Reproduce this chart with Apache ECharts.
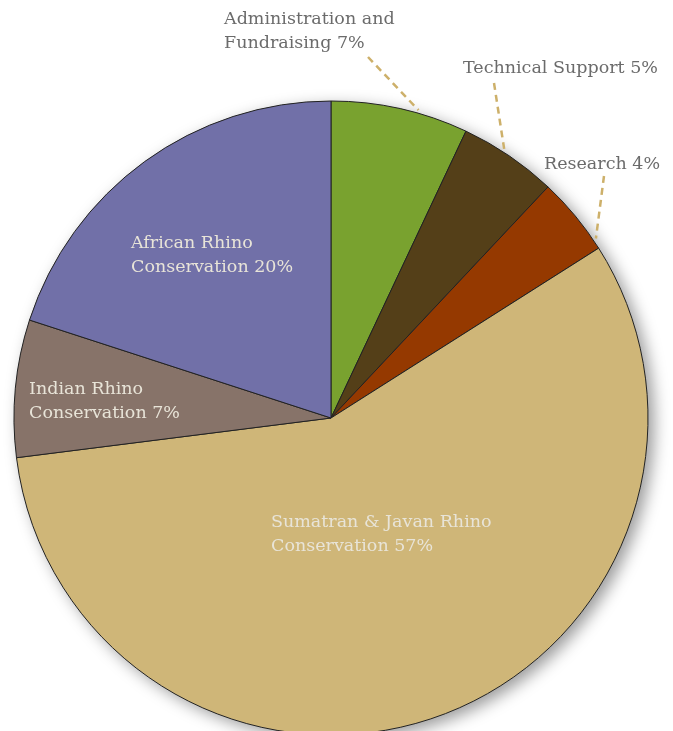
<!DOCTYPE html>
<html>
<head>
<meta charset="utf-8">
<script src="https://cdn.jsdelivr.net/npm/echarts@6/dist/echarts.min.js"></script>
<style>html,body{margin:0;padding:0;background:#fff}#c{width:673px;height:731px}</style>
</head>
<body>
<div id="c"></div>
<script>
const categories = ['Administration and\nFundraising', 'Technical Support', 'Research', 'Sumatran & Javan Rhino\nConservation', 'Indian Rhino\nConservation', 'African Rhino\nConservation'];
const values = [7, 5, 4, 57, 7, 20];
const colors = ['#79a22f', '#543f18', '#953900', '#cfb678', '#877369', '#7170a8'];
const outside = [true, true, true, false, false, false];
// label anchor positions (top-left of text block)
const labelPos = [[224, 7], [463, 56], [544, 152], [271, 510], [29, 377], [131, 231]];
// leader line: start offset from label top-left, and where along the slice (0..1) it meets the rim
const leaderStart = [[144, 50], [31, 27], [60, 24]];
const leaderFrac = [0.63, 0.42, 0.88];

const CX = 331, CY = 418, R = 317;
const total = values.reduce((a, b) => a + b, 0);

const chart = echarts.init(document.getElementById('c'), null, {renderer: 'canvas'});
const data = categories.map((name, i) => ({
  name: name,
  value: values[i],
  itemStyle: {color: colors[i]},
  label: {
    color: outside[i] ? '#6b6b6b' : '#e8e4d8'
  },
  labelLine: {show: outside[i]}
}));

function rimPoint(i) {
  let before = 0;
  for (let k = 0; k < i; k++) before += values[k];
  const frac = (before + values[i] * leaderFrac[i]) / total;
  const a = frac * Math.PI * 2;
  const r = R + 3;
  return [CX + r * Math.sin(a), CY - r * Math.cos(a)];
}

chart.setOption({
  animation: false,
  series: [{
    type: 'pie',
    silent: true,
    center: [CX, CY],
    radius: R,
    z: 1,
    label: {show: false},
    labelLine: {show: false},
    itemStyle: {
      color: '#ccc',
      shadowBlur: 16,
      shadowColor: 'rgba(0,0,0,0.4)',
      shadowOffsetX: 6,
      shadowOffsetY: 5
    },
    data: [{value: 1, name: 'shadow'}],
    emphasis: {disabled: true},
    tooltip: {show: false}
  }, {
    type: 'pie',
    z: 2,
    center: [CX, CY],
    radius: R,
    startAngle: 90,
    clockwise: true,
    avoidLabelOverlap: false,
    data: data,
    itemStyle: {
      borderColor: '#222',
      borderWidth: 1
    },
    label: {
      show: true,
      formatter: p => p.name + ' ' + p.value + '%',
      fontFamily: 'DejaVu Serif',
      fontSize: 17.5,
      lineHeight: 24,
      align: 'left'
    },
    labelLine: {
      show: true,
      length: 20,
      length2: 0,
      lineStyle: {color: '#cdb06a', width: 2.5, type: [7, 5]}
    },
    labelLayout: function (p) {
      const i = p.dataIndex;
      const pos = labelPos[i];
      const out = {x: pos[0], y: pos[1], align: 'left', verticalAlign: 'top', moveOverlap: null};
      if (outside[i]) {
        const s = [pos[0] + leaderStart[i][0], pos[1] + leaderStart[i][1]];
        const e = rimPoint(i);
        out.labelLinePoints = [s, [(s[0] + e[0]) / 2, (s[1] + e[1]) / 2], e];
      }
      return out;
    },
    emphasis: {disabled: true}
  }]
});
</script>
</body>
</html>
